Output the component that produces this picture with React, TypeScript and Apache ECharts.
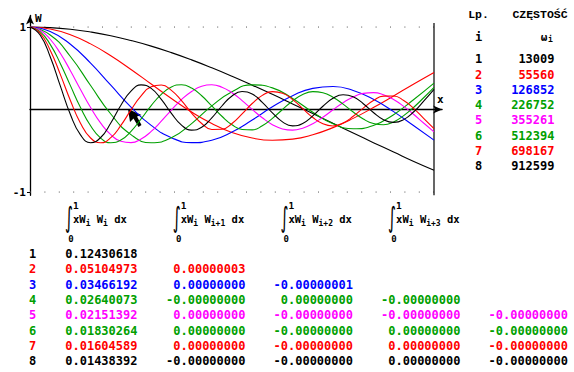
import React, { useEffect, useRef } from "react";
import * as echarts from "echarts";

// ---------- data ----------
const xCoarse = [0, 0.05, 0.1, 0.15, 0.2, 0.25, 0.3, 0.35, 0.4, 0.45, 0.5, 0.55, 0.6, 0.65, 0.7, 0.75, 0.8, 0.85, 0.9, 0.95, 1];
const xFine = [0, 0.025, 0.05, 0.075, 0.1, 0.125, 0.15, 0.175, 0.2, 0.225, 0.25, 0.275, 0.3, 0.325, 0.35, 0.375, 0.4, 0.425, 0.45, 0.475, 0.5, 0.525, 0.55, 0.575, 0.6, 0.625, 0.65, 0.675, 0.7, 0.725, 0.75, 0.775, 0.8, 0.825, 0.85, 0.875, 0.9, 0.925, 0.95, 0.975, 1];

const w1 = [1, 0.993, 0.973, 0.94, 0.895, 0.837, 0.769, 0.69, 0.602, 0.506, 0.404, 0.296, 0.184, 0.068, -0.049, -0.167, -0.284, -0.401, -0.515, -0.629, -0.735];
const w2 = [1, 0.976, 0.907, 0.796, 0.652, 0.486, 0.309, 0.134, -0.03, -0.169, -0.278, -0.345, -0.372, -0.358, -0.305, -0.219, -0.107, 0.024, 0.165, 0.31, 0.45];
const w3 = [1, 0.946, 0.791, 0.563, 0.295, 0.03, -0.192, -0.341, -0.401, -0.373, -0.273, -0.127, 0.033, 0.168, 0.257, 0.279, 0.232, 0.124, -0.025, -0.196, -0.37];
const w4 = [1, 0.904, 0.643, 0.291, -0.054, -0.304, -0.402, -0.343, -0.17, 0.045, 0.217, 0.299, 0.263, 0.134, -0.033, -0.172, -0.233, -0.193, -0.062, 0.122, 0.32];
const w5 = [1, 0.962, 0.852, 0.682, 0.471, 0.244, 0.025, -0.165, -0.305, -0.385, -0.401, -0.357, -0.265, -0.141, -0.006, 0.121, 0.219, 0.283, 0.3, 0.271, 0.203, 0.109, 0.002, -0.1, -0.183, -0.235, -0.249, -0.226, -0.172, -0.093, -0.003, 0.083, 0.153, 0.196, 0.205, 0.18, 0.122, 0.039, -0.06, -0.166, -0.27];
const w6 = [1, 0.945, 0.79, 0.559, 0.29, 0.024, -0.197, -0.346, -0.402, -0.37, -0.264, -0.114, 0.048, 0.184, 0.274, 0.3, 0.26, 0.167, 0.044, -0.081, -0.184, -0.241, -0.246, -0.197, -0.107, 0.001, 0.104, 0.182, 0.217, 0.204, 0.15, 0.066, -0.03, -0.115, -0.17, -0.185, -0.15, -0.074, 0.028, 0.146, 0.27];
const w7 = [1, 0.926, 0.719, 0.426, 0.109, -0.166, -0.345, -0.403, -0.341, -0.192, -0.004, 0.166, 0.275, 0.297, 0.233, 0.107, -0.042, -0.169, -0.241, -0.239, -0.169, -0.053, 0.073, 0.172, 0.217, 0.198, 0.121, 0.012, -0.096, -0.173, -0.199, -0.162, -0.082, 0.018, 0.109, 0.163, 0.164, 0.109, 0.012, -0.109, -0.23];
const w8 = [1, 0.903, 0.64, 0.287, -0.059, -0.307, -0.402, -0.339, -0.163, 0.053, 0.222, 0.299, 0.257, 0.123, -0.046, -0.188, -0.249, -0.215, -0.101, 0.043, 0.165, 0.218, 0.188, 0.088, -0.041, -0.149, -0.198, -0.168, -0.077, 0.04, 0.137, 0.18, 0.154, 0.071, -0.036, -0.123, -0.156, -0.122, -0.027, 0.105, 0.245];

const modeNumbers = ["1", "2", "3", "4", "5", "6", "7", "8"];
const modeColors = ["#000000", "#ff0000", "#0000ff", "#00a000", "#ff00ff", "#00a000", "#ff0000", "#000000"];
const frequencies = ["13009", "55560", "126852", "226752", "355261", "512394", "698167", "912599"];

const yTickValues = [-1, 1];
const yTickLabels = ["-1", "1"];

const integralShifts = ["i", "i+1", "i+2", "i+3"];
const orthoCol0 = ["0.12430618", "0.05104973", "0.03466192", "0.02640073", "0.02151392", "0.01830264", "0.01604589", "0.01438392"];
const orthoCol1 = ["", "0.00000003", "0.00000000", "-0.00000000", "0.00000000", "0.00000000", "0.00000000", "-0.00000000"];
const orthoCol2 = ["", "", "-0.00000001", "0.00000000", "-0.00000000", "-0.00000000", "-0.00000000", "-0.00000000"];
const orthoCol3 = ["", "", "", "-0.00000000", "-0.00000000", "0.00000000", "0.00000000", "0.00000000"];
const orthoCol4 = ["", "", "", "", "-0.00000000", "-0.00000000", "-0.00000000", "-0.00000000"];

// ---------- helpers ----------
const MONO = "DejaVu Sans Mono";

function txt(x: number, y: number, text: string, color: string, size: number, align = "left", family = MONO, weight = "bold", extra: any = {}) {
  return {
    type: "text",
    x,
    y,
    silent: true,
    ...extra,
    style: {
      text,
      fill: color,
      font: `${weight} ${size}px "${family}"`,
      align,
      verticalAlign: "middle",
      textAlign: align,
      textVerticalAlign: "middle",
    },
  };
}

function buildGraphic() {
  const g: any[] = [];
  // axis names
  g.push(txt(35, 18.5, "W", "#000", 11));
  g.push(txt(437, 99.5, "x", "#000", 11));
  // mouse cursor
  g.push({
    type: "polygon",
    silent: true,
    shape: { points: [[128, 109], [130, 122], [133.5, 118.5], [138.5, 127], [141.5, 125], [137, 116.5], [141.5, 115]] },
    style: { fill: "#000" },
  });

  // right table
  g.push(txt(478.5, 14, "Lp.", "#000", 11.5, "center", "Liberation Mono"));
  g.push(txt(540, 14, "CZĘSTOŚĆ", "#000", 11.5, "center", "Liberation Mono"));
  g.push(txt(478.5, 36.5, "i", "#000", 12, "center"));
  g.push(txt(544, 37, "ω", "#000", 11, "center"));
  g.push(txt(550.5, 39.5, "i", "#000", 8, "center"));
  modeNumbers.forEach((n, k) => {
    const y = 59.3 + 15.25 * k;
    g.push(txt(478.5, y, n, modeColors[k], 12, "center"));
    g.push(txt(554.5, y, frequencies[k], modeColors[k], 12, "right"));
  });

  // integral headers
  const mainSize = 10.5;
  const subSize = 8;
  const mainAdv = mainSize * 0.602;
  const subAdv = subSize * 0.602;
  integralShifts.forEach((sh, j) => {
    const x0 = 67 + 107.7 * j;
    g.push(txt(x0 + 2, 217.5, "∫", "#000", 28, "center", "DejaVu Sans", "normal", { scaleX: 0.55, originX: 0, originY: 0 }));
    g.push(txt(x0 + 6, 205, "1", "#000", 9.5, "left"));
    g.push(txt(x0 + 1.2, 238.5, "0", "#000", 9, "left"));
    const pieces: [string, boolean][] = [["xW", false], ["i", true], [" W", false], [sh, true], [" dx", false]];
    let cx = x0 + 6;
    pieces.forEach(([t, sub]) => {
      if (sub) {
        g.push(txt(cx, 223, t, "#000", subSize, "left"));
        cx += t.length * subAdv;
      } else {
        g.push(txt(cx, 219, t, "#000", mainSize, "left"));
        cx += t.length * mainAdv;
      }
    });
  });

  // bottom orthogonality table
  const cols = [orthoCol0, orthoCol1, orthoCol2, orthoCol3, orthoCol4];
  const colRight = [137.5, 245.5, 353, 460.5, 568];
  modeNumbers.forEach((n, k) => {
    const y = 254 + 15.33 * k;
    g.push(txt(32.5, y, n, modeColors[k], 12, "center"));
    cols.forEach((col, c) => {
      if (col[k]) g.push(txt(colRight[c], y, col[k], modeColors[k], 12, "right"));
    });
  });
  return g;
}

export default function App() {
  const ref = useRef<HTMLDivElement>(null);
  useEffect(() => {
    if (!ref.current) return;
    const chart = echarts.init(ref.current, undefined, { renderer: "svg" });
    const modes = [w1, w2, w3, w4, w5, w6, w7, w8];
    const curveSeries = modes.map((w, k) => {
      const xs = w.length === xCoarse.length ? xCoarse : xFine;
      return {
        type: "line",
        name: "W" + modeNumbers[k],
        data: xs.map((x, i) => [x, w[i]]),
        smooth: true,
        showSymbol: false,
        symbol: "none",
        silent: true,
        lineStyle: { color: modeColors[k], width: 1.1 },
        z: 3,
      };
    });
    const refSeries = [
      { data: [[0, 1], [1, 1]], lineStyle: { color: "#555", width: 1, type: [1, 13.4] } },
      { data: [[0, -1], [1, -1]], lineStyle: { color: "#555", width: 1, type: [1, 13.4] } },
      { data: [[1, 1.05], [1, -1.04]], lineStyle: { color: "#000", width: 1.2, type: "solid" } },
    ].map((s) => ({ type: "line", symbol: "none", silent: true, z: 2, ...s }));

    chart.setOption({
      animation: false,
      backgroundColor: "#ffffff",
      grid: { left: 30, top: 15.5, width: 412.08, height: 179.85, containLabel: false },
      xAxis: {
        type: "value",
        min: 0,
        max: 1.02,
        axisLine: {
          show: true,
          onZero: true,
          symbol: ["none", "arrow"],
          symbolSize: [6, 9],
          lineStyle: { color: "#000", width: 1.3 },
        },
        axisTick: { show: false },
        axisLabel: { show: false },
        splitLine: { show: false },
      },
      yAxis: {
        type: "value",
        min: -1.04,
        max: 1.14,
        axisLine: {
          show: true,
          onZero: true,
          symbol: ["none", "arrow"],
          symbolSize: [6, 9],
          lineStyle: { color: "#000", width: 1.3 },
        },
        axisTick: { show: true, customValues: yTickValues, length: 3, lineStyle: { color: "#000" } },
        axisLabel: {
          show: true,
          customValues: yTickValues,
          formatter: (v: number) => yTickLabels[yTickValues.indexOf(v)] ?? "",
          margin: 4,
          color: "#000",
          fontSize: 11,
          fontWeight: "bold",
          fontFamily: MONO,
        },
        splitLine: { show: false },
      },
      series: [...refSeries, ...curveSeries],
      graphic: { elements: buildGraphic() },
    });
    return () => chart.dispose();
  }, []);
  return (
    <div
      ref={ref}
      style={{ position: "absolute", left: 0, top: 0, width: 574, height: 372, background: "#fff" }}
    />
  );
}
